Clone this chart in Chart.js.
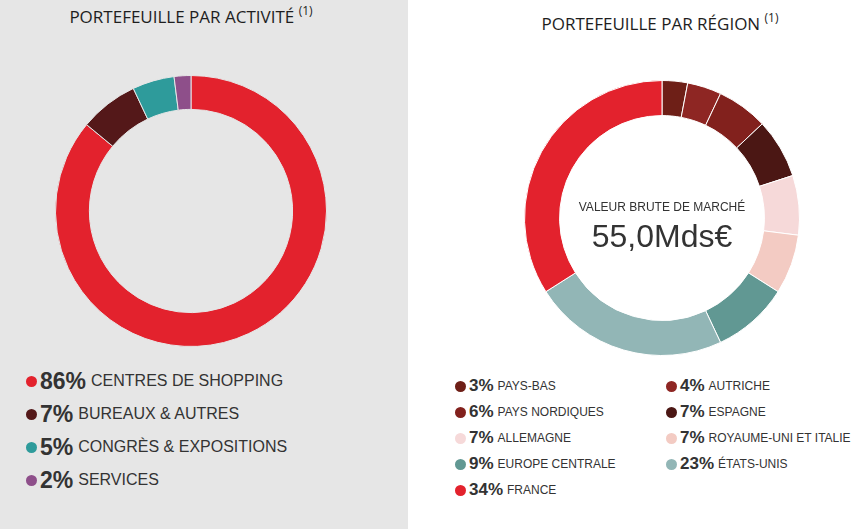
<!DOCTYPE html>
<html lang="fr">
<head>
<meta charset="utf-8">
<script src="https://cdn.jsdelivr.net/npm/chart.js@4/dist/chart.umd.min.js"></script>
<style>
  html, body { margin: 0; padding: 0; }
  body { width: 865px; height: 529px; position: relative; overflow: hidden; background: #fff; font-family: "Liberation Sans", Arial, sans-serif; color: #333; }
  .panel-left { position: absolute; left: 0; top: 0; width: 408px; height: 529px; background: #e6e6e6; }
  .title { position: absolute; font-family: "Open Sans", sans-serif; font-size: 17px; line-height: 24px; color: #1e1e1e; white-space: nowrap; transform: translateX(-50%); }
  .title sup { font-size: 12px; position: relative; top: -1px; }
  .chart-box { position: absolute; }
  .center { position: absolute; left: 662px; top: 0; transform: translateX(-50%); text-align: center; white-space: nowrap; color: #333; }
  .legend-item { position: absolute; white-space: nowrap; display: flex; align-items: center; }
  .legend-item .dot { display: inline-block; border-radius: 50%; }
  .legend-item b { font-weight: bold; color: #333; }
  .legend-item span.lbl { color: #333; }
</style>
</head>
<body>
<div class="panel-left"></div>

<div class="title" style="left:191px; top:0px;">PORTEFEUILLE PAR ACTIVITÉ <sup>(1)</sup></div>
<div class="title" style="left:660px; top:7px;">PORTEFEUILLE PAR RÉGION <sup>(1)</sup></div>

<div class="chart-box" style="left:55px; top:75px; width:272px; height:272px;">
  <canvas id="activityChart"></canvas>
</div>
<div class="chart-box" style="left:524px; top:80px; width:276px; height:276px;">
  <canvas id="regionChart"></canvas>
</div>

<div class="center" style="top:200px; font-size:12px;">VALEUR BRUTE DE MARCHÉ</div>
<div class="center" style="top:218px; font-size:32px;">55,0Mds€</div>

<div id="activityLegend"></div>
<div id="regionLegend"></div>

<script>
// Portefeuille par activité
const activityLabels = ['CENTRES DE SHOPPING', 'BUREAUX & AUTRES', 'CONGRÈS & EXPOSITIONS', 'SERVICES'];
const activityValues = [86, 7, 5, 2];
const activityColors = ['#e3222d', '#541819', '#2e9b9b', '#8e4f8a'];

// Portefeuille par région
const regionLabels = ['PAYS-BAS', 'AUTRICHE', 'PAYS NORDIQUES', 'ESPAGNE', 'ALLEMAGNE',
  'ROYAUME-UNI ET ITALIE', 'EUROPE CENTRALE', 'ÉTATS-UNIS', 'FRANCE'];
const regionValues = [3, 4, 6, 7, 7, 7, 9, 23, 34];
const regionColors = ['#6e1f17', '#8e2623', '#82211d', '#4b1714', '#f6d9d9',
  '#f3cbc3', '#619893', '#92b6b6', '#e3222d'];

const makeDoughnut = (id, labels, values, colors, cutout, borderColor) => {
  const ctx = document.getElementById(id).getContext('2d');
  return new Chart(ctx, {
    type: 'doughnut',
    data: {
      labels: labels,
      datasets: [
        {
          data: values,
          backgroundColor: colors,
          borderColor: borderColor,
          borderWidth: 1,
        },
      ],
    },
    options: {
      responsive: true,
      maintainAspectRatio: false,
      animation: false,
      cutout: cutout,
      layout: { padding: 0 },
      plugins: {
        legend: { display: false },
        tooltip: { enabled: false },
      },
    },
  });
};

makeDoughnut('activityChart', activityLabels, activityValues, activityColors, '75%', '#e6e6e6');
makeDoughnut('regionChart', regionLabels, regionValues, regionColors, '74.5%', '#ffffff');

const addLegendItem = (parent, x, y, color, value, label, dotSize, pctSize, lblSize, gap) => {
  const item = document.createElement('div');
  item.className = 'legend-item';
  item.style.left = x + 'px';
  item.style.top = y + 'px';
  item.style.height = '0px';
  item.innerHTML =
    '<span class="dot" style="width:' + dotSize + 'px;height:' + dotSize + 'px;background:' + color + ';margin-right:3px;"></span>' +
    '<b style="font-size:' + pctSize + 'px;margin-right:' + gap + 'px;">' + value + '%</b>' +
    '<span class="lbl" style="font-size:' + lblSize + 'px;">' + label + '</span>';
  parent.appendChild(item);
};

const activityLegend = document.getElementById('activityLegend');
activityLabels.forEach((lbl, i) => {
  addLegendItem(activityLegend, 26, 381 + i * 33, activityColors[i], activityValues[i], lbl, 11, 23, 16, 5);
});

const regionLegend = document.getElementById('regionLegend');
regionLabels.forEach((lbl, i) => {
  const col = i % 2;
  const row = Math.floor(i / 2);
  addLegendItem(regionLegend, 455, 386 + row * 26, regionColors[i], regionValues[i], lbl, 11, 17, 12, 4);
  if (col === 1) {
    regionLegend.lastChild.style.left = '666px';
  }
});
</script>
</body>
</html>
